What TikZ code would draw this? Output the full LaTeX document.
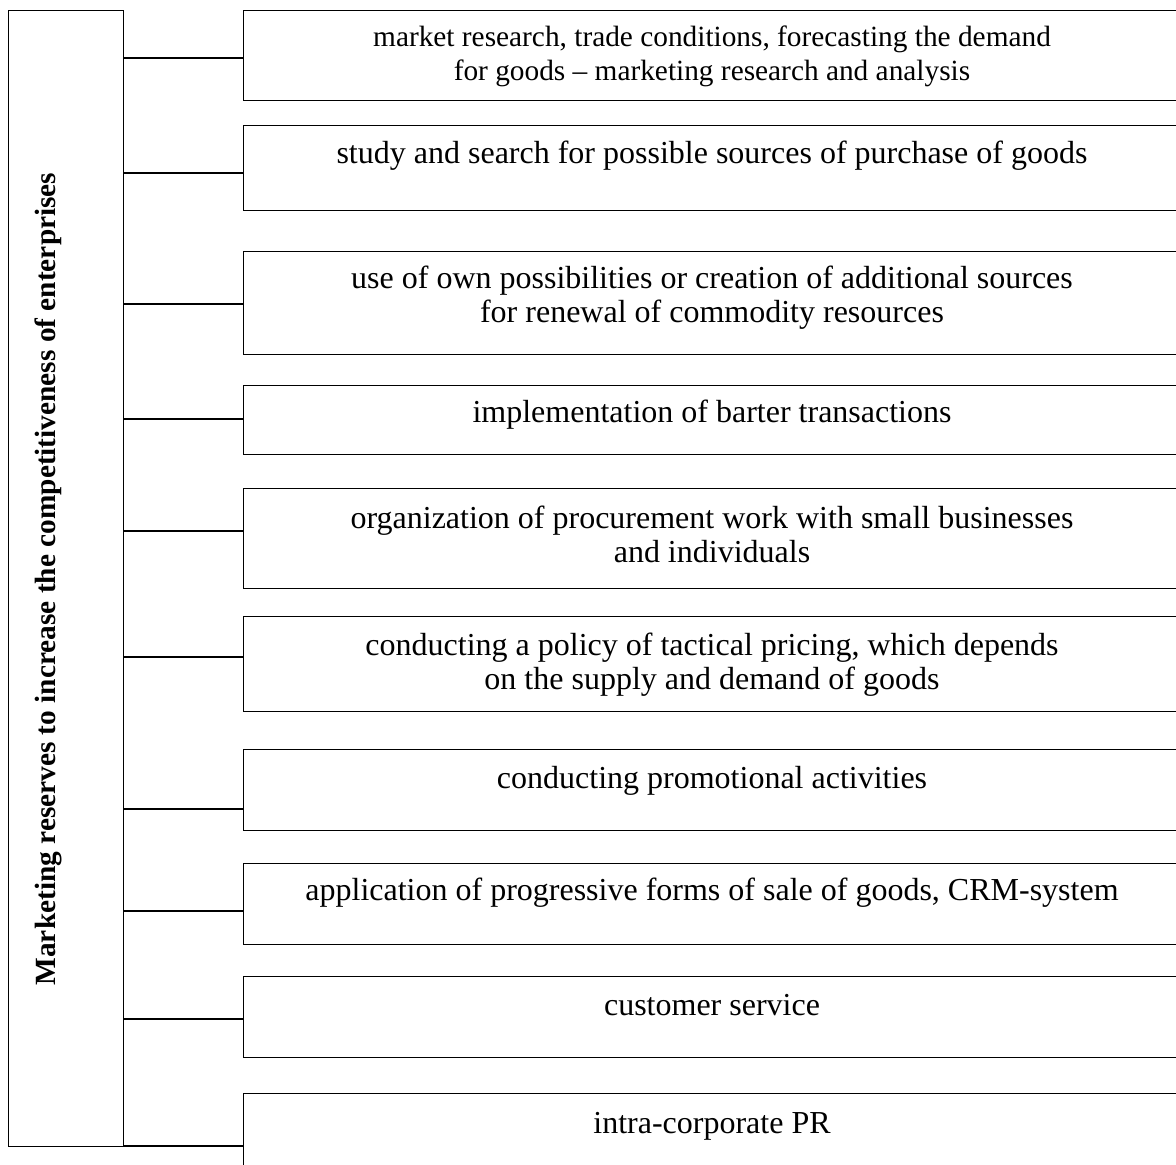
\documentclass[tikz,border=0pt]{standalone}
\usepackage{fontspec}
\setmainfont{Liberation Serif}
\usetikzlibrary{positioning}

\begin{document}
\begin{tikzpicture}[
        x=0.375pt, y=-0.375pt,
        font=\fontsize{12}{12.8}\selectfont,
        line width=0.5pt,
        % box styles
        mainbox/.style={draw=black, rectangle, inner sep=0pt, anchor=north west, minimum width=115*0.375pt},
        itembox/.style={draw=black, rectangle, inner sep=0pt, anchor=north west, minimum width=937*0.375pt},
        itemtext/.style={align=center, inner sep=0pt},
        link/.style={draw=black}
    ]
    \useasboundingbox (0,0) rectangle (1176,1164);

    % ==========================================
    % main block (left)
    % ==========================================
    \node[mainbox, minimum height=1136*0.375pt] (reserves) at (8,10) {};
    \node[rotate=90, inner sep=0pt, font=\fontsize{11}{13}\selectfont\bfseries] (title) at (48,579)
        {Marketing reserves to increase the competitiveness of enterprises};

    % ==========================================
    % reserve blocks (right)
    % ==========================================
    \node[itembox, minimum height=90*0.375pt]  (b1)  at (243,10)   {};
    \node[itembox, minimum height=85*0.375pt]  (b2)  at (243,125)  {};
    \node[itembox, minimum height=103*0.375pt] (b3)  at (243,251)  {};
    \node[itembox, minimum height=69*0.375pt]  (b4)  at (243,385)  {};
    \node[itembox, minimum height=100*0.375pt] (b5)  at (243,488)  {};
    \node[itembox, minimum height=95*0.375pt]  (b6)  at (243,616)  {};
    \node[itembox, minimum height=81*0.375pt]  (b7)  at (243,749)  {};
    \node[itembox, minimum height=81*0.375pt]  (b8)  at (243,863)  {};
    \node[itembox, minimum height=81*0.375pt]  (b9)  at (243,976)  {};
    \node[itembox, minimum height=100*0.375pt] (b10) at (243,1093) {};

    % texts
    \node[itemtext, font=\fontsize{11}{12.8}\selectfont] (t1) at (712,56)
        {market research, trade conditions, forecasting the demand\\for goods -- marketing research and analysis};
    \node[itemtext] (t2)  at (712,156)  {study and search for possible sources of purchase of goods};
    \node[itemtext] (t3)  at (712,298)  {use of own possibilities or creation of additional sources\\for renewal of commodity resources};
    \node[itemtext] (t4)  at (712,415)  {implementation of barter transactions};
    \node[itemtext] (t5)  at (712,534)  {organization of procurement work with small businesses\\and individuals};
    \node[itemtext] (t6)  at (712,665)  {conducting a policy of tactical pricing, which depends\\on the supply and demand of goods};
    \node[itemtext] (t7)  at (712,781)  {conducting promotional activities};
    \node[itemtext] (t8)  at (712,893)  {application of progressive forms of sale of goods, CRM-system};
    \node[itemtext] (t9)  at (712,1005) {customer service};
    \node[itemtext] (t10) at (712,1126) {intra-corporate PR};

    % ==========================================
    % connectors
    % ==========================================
    \foreach \n/\y in {b1/58, b2/173, b3/304, b4/419, b5/531, b6/657, b7/809, b8/911, b9/1019, b10/1146}
        \draw[link] (reserves.east |- 0,\y) -- (\n.west |- 0,\y);

\end{tikzpicture}
\end{document}
